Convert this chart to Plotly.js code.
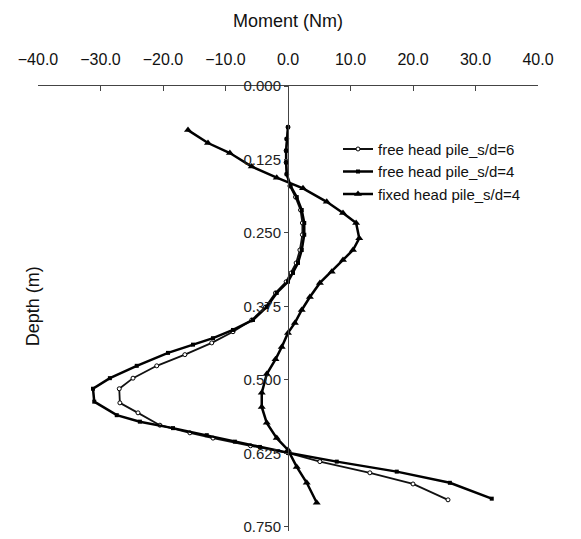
<!DOCTYPE html>
<html>
<head>
<meta charset="utf-8">
<script src="https://cdn.plot.ly/plotly-3.0.1.min.js"></script>
<style>html,body{margin:0;padding:0;background:#fff;}#chart{width:581px;height:539px;}</style>
</head>
<body>
<div id="chart"></div>
<script>
// Free head pile, s/d = 6 (hollow circles)
const depthFree6 = [0.070,0.090,0.110,0.130,0.150,0.170,0.189,0.211,0.233,0.253,0.279,0.301,0.318,0.333,0.352,0.376,0.398,0.418,0.437,0.457,0.476,0.497,0.515,0.539,0.556,0.577,0.590,0.599,0.612,0.624,0.639,0.658,0.677,0.704];
const momentFree6 = [0.0,-0.2,-0.3,-0.3,-0.2,0.3,1.2,2.0,2.3,2.3,1.9,1.3,0.5,-0.3,-2.0,-3.6,-5.8,-8.8,-12.2,-16.5,-21.0,-24.8,-27.0,-26.9,-24.0,-20.5,-15.7,-12.0,-6.0,0.0,5.1,13.1,20.0,25.6];

// Free head pile, s/d = 4 (filled squares)
const depthFree4 = [0.070,0.090,0.110,0.130,0.150,0.170,0.189,0.211,0.233,0.253,0.279,0.301,0.318,0.333,0.352,0.376,0.398,0.415,0.429,0.440,0.454,0.476,0.497,0.515,0.537,0.560,0.571,0.582,0.594,0.605,0.614,0.624,0.639,0.656,0.675,0.702];
const momentFree4 = [0.0,-0.2,-0.3,-0.3,-0.2,0.4,1.4,2.2,2.6,2.6,2.2,1.6,0.8,0.0,-1.8,-3.4,-5.6,-8.8,-12.0,-15.2,-19.2,-24.2,-28.5,-31.2,-31.0,-27.4,-23.7,-18.4,-13.0,-8.5,-4.5,0.0,7.8,17.4,25.9,32.6];

// Fixed head pile, s/d = 4 (triangles)
const depthFixed4 = [0.075,0.097,0.114,0.137,0.156,0.174,0.197,0.216,0.233,0.259,0.279,0.296,0.316,0.335,0.359,0.381,0.403,0.420,0.444,0.465,0.490,0.522,0.546,0.573,0.599,0.619,0.648,0.675,0.709];
const momentFixed4 = [-16.0,-12.8,-9.3,-5.8,-1.8,2.4,6.2,8.8,10.9,11.4,10.4,8.8,7.0,5.1,3.5,2.2,1.1,0.0,-1.0,-2.0,-3.4,-4.2,-4.2,-3.4,-1.8,0.0,1.4,3.0,4.6];

const seriesNames = ['free head pile_s/d=6','free head pile_s/d=4','fixed head pile_s/d=4'];
const xTickVals = [-40,-30,-20,-10,0,10,20,30,40];
const yTickVals = [0,0.125,0.25,0.375,0.5,0.625,0.75];

const font = 'Arial, "Liberation Sans", Helvetica, sans-serif';

const traces = [
  {x: momentFree6, y: depthFree6, name: seriesNames[0], mode: 'lines+markers',
   line: {color: '#111', width: 1.8},
   marker: {symbol: 'circle', size: 4, color: '#fff', line: {color: '#000', width: 1}}},
  {x: momentFree4, y: depthFree4, name: seriesNames[1], mode: 'lines+markers',
   line: {color: '#000', width: 2.5},
   marker: {symbol: 'square', size: 4, color: '#000'}},
  {x: momentFixed4, y: depthFixed4, name: seriesNames[2], mode: 'lines+markers',
   line: {color: '#000', width: 2.5},
   marker: {symbol: 'triangle-up', size: 7, color: '#000'}}
];

const layout = {
  width: 581, height: 539,
  margin: {l: 38, r: 43, t: 86, b: 8},
  paper_bgcolor: '#fff', plot_bgcolor: '#fff',
  font: {family: font, color: '#111', size: 15},
  showlegend: true,
  legend: {x: 0.60, y: 0.895, xanchor: 'left', yanchor: 'top', bgcolor: 'rgba(0,0,0,0)',
           font: {family: font, size: 15, color: '#111'}, itemwidth: 30, tracegroupgap: 0},
  xaxis: {
    side: 'top', range: [-40, 40], tickvals: xTickVals, tickformat: '.1f',
    showgrid: false, zeroline: false, showline: true, linecolor: '#444', linewidth: 1,
    ticks: 'inside', ticklen: 5, tickcolor: '#444', ticklabelstandoff: 14,
    tickfont: {family: font, size: 16, color: '#111'},
    title: {text: 'Moment (Nm)', font: {family: font, size: 18, color: '#111'}, standoff: 18}
  },
  yaxis: {
    range: [0.757, 0], tickvals: yTickVals, tickformat: '.3f',
    anchor: 'free', position: 0.5,
    showgrid: false, zeroline: false, showline: true, linecolor: '#444', linewidth: 1,
    ticks: 'outside', ticklen: 4, tickcolor: '#444', ticklabelstandoff: 0,
    tickfont: {family: font, size: 15, color: '#222'}
  },
  annotations: [{
    text: 'Depth (m)', textangle: -90, xref: 'paper', yref: 'paper',
    x: -0.01, y: 0.505, xanchor: 'center', yanchor: 'middle', showarrow: false,
    font: {family: font, size: 18, color: '#111'}
  }]
};

Plotly.newPlot('chart', traces, layout, {displayModeBar: false, staticPlot: true});
</script>
</body>
</html>
